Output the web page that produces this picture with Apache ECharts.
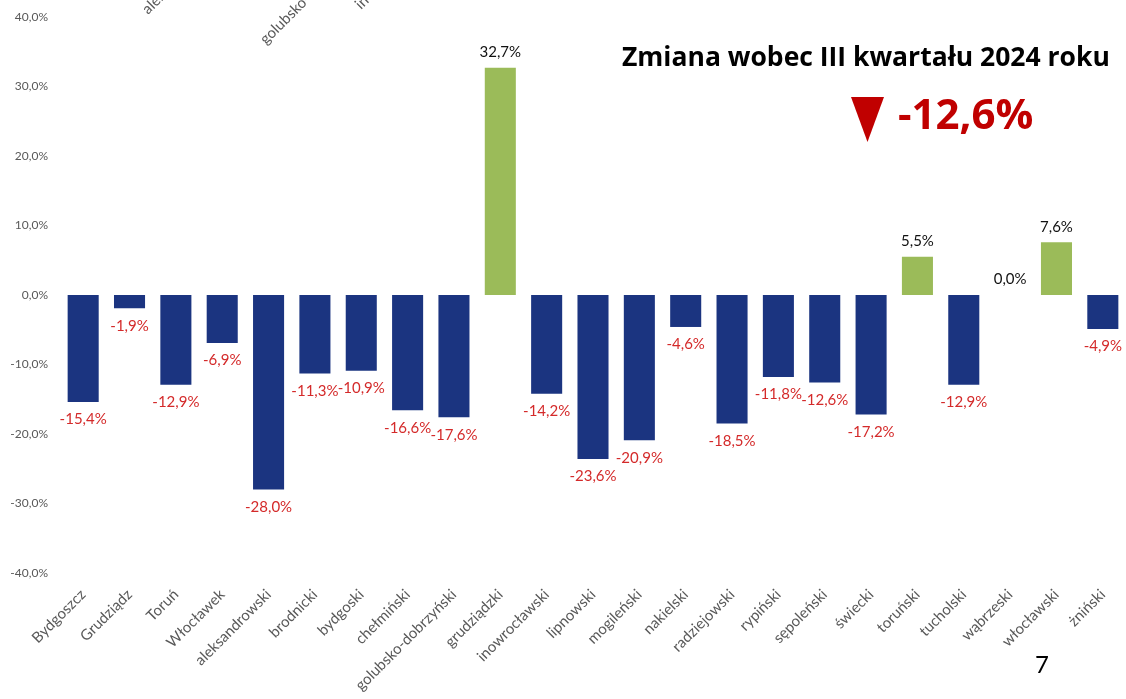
<!DOCTYPE html>
<html>
<head>
<meta charset="utf-8">
<script src="https://cdn.jsdelivr.net/npm/echarts@6/dist/echarts.min.js"></script>
<style>
  html, body { margin: 0; padding: 0; background: #fff; }
  #chart { width: 1126px; height: 699px; }
</style>
</head>
<body>
<div id="chart"></div>
<script>
// powiaty / miasta
const categories = ['Bydgoszcz', 'Grudziądz', 'Toruń', 'Włocławek', 'aleksandrowski', 'brodnicki',
  'bydgoski', 'chełmiński', 'golubsko-dobrzyński', 'grudziądzki', 'inowrocławski', 'lipnowski',
  'mogileński', 'nakielski', 'radziejowski', 'rypiński', 'sępoleński', 'świecki', 'toruński',
  'tucholski', 'wąbrzeski', 'włocławski', 'żniński'];
// zmiana w % wobec III kw. 2024
const values = [-15.4, -1.9, -12.9, -6.9, -28.0, -11.3, -10.9, -16.6, -17.6, 32.7, -14.2, -23.6,
  -20.9, -4.6, -18.5, -11.8, -12.6, -17.2, 5.5, -12.9, 0.0, 7.6, -4.9];
const yTicks = [-40, -30, -20, -10, 0, 10, 20, 30, 40];
const totalChange = -12.6;

const fmt = v => v.toFixed(1).replace('.', ',') + '%';
const FONT = 'Lato';
const BOLD = '"Open Sans"';

const myChart = echarts.init(document.getElementById('chart'));

let seriesData = values.map(v => ({
  value: v,
  itemStyle: { color: v > 0 ? '#9bbb59' : '#1b3480' },
  label: {
    position: v < 0 ? 'bottom' : 'top',
    distance: v < 0 ? 10 : 8,
    color: v < 0 ? '#d42a2a' : '#111'
  }
}));

let option = {
  animation: false,
  title: {
    text: 'Zmiana wobec III kwartału 2024 roku',
    left: 617,
    top: 40,
    textStyle: { fontFamily: BOLD, fontWeight: 'bold', fontSize: 26.5, color: '#000' }
  },
  grid: { left: 60, right: -2, top: 17, bottom: 126 },
  xAxis: {
    type: 'category',
    data: categories,
    axisLine: { show: false, onZero: false },
    axisTick: { show: false },
    axisLabel: {
      rotate: 45,
      interval: 0,
      margin: 19,
      color: '#595959',
      fontFamily: FONT,
      fontSize: 15
    }
  },
  yAxis: {
    type: 'value',
    min: yTicks[0],
    max: yTicks[yTicks.length - 1],
    interval: 10,
    splitLine: { show: false },
    axisLine: { show: false },
    axisTick: { show: false },
    axisLabel: {
      formatter: v => fmt(v),
      color: '#595959',
      fontFamily: FONT,
      fontSize: 12,
      margin: 12
    }
  },
  series: [{
    type: 'bar',
    barWidth: '67%',
    data: seriesData,
    label: {
      show: true,
      formatter: p => fmt(p.value),
      fontFamily: FONT,
      fontSize: 15
    }
  }],
  graphic: [
    // strzałka i zmiana ogółem
    {
      type: 'polygon',
      shape: { points: [[851, 97], [884, 97], [867.5, 142]] },
      style: { fill: '#c00000' }
    },
    {
      type: 'text',
      left: 898,
      top: 96,
      style: {
        text: fmt(totalChange),
        fill: '#c00000',
        font: 'bold 42px ' + BOLD
      }
    },
    // numer strony
    {
      type: 'text',
      left: 1035,
      top: 653,
      style: { text: '7', fill: '#000', font: '24px ' + FONT }
    },
    // obcięte etykiety z poprzedniego wykresu
    {
      type: 'text', x: 150, y: 17, rotation: Math.PI / 4,
      style: { text: 'aleksandrowski', fill: '#595959', font: '15px ' + FONT, textVerticalAlign: 'bottom' }
    },
    {
      type: 'text', x: 268, y: 47, rotation: Math.PI / 4,
      style: { text: 'golubsko-dobrzyński', fill: '#595959', font: '15px ' + FONT, textVerticalAlign: 'bottom' }
    },
    {
      type: 'text', x: 363, y: 12, rotation: Math.PI / 4,
      style: { text: 'inowrocławski', fill: '#595959', font: '15px ' + FONT, textVerticalAlign: 'bottom' }
    }
  ]
};

myChart.setOption(option);
</script>
</body>
</html>
